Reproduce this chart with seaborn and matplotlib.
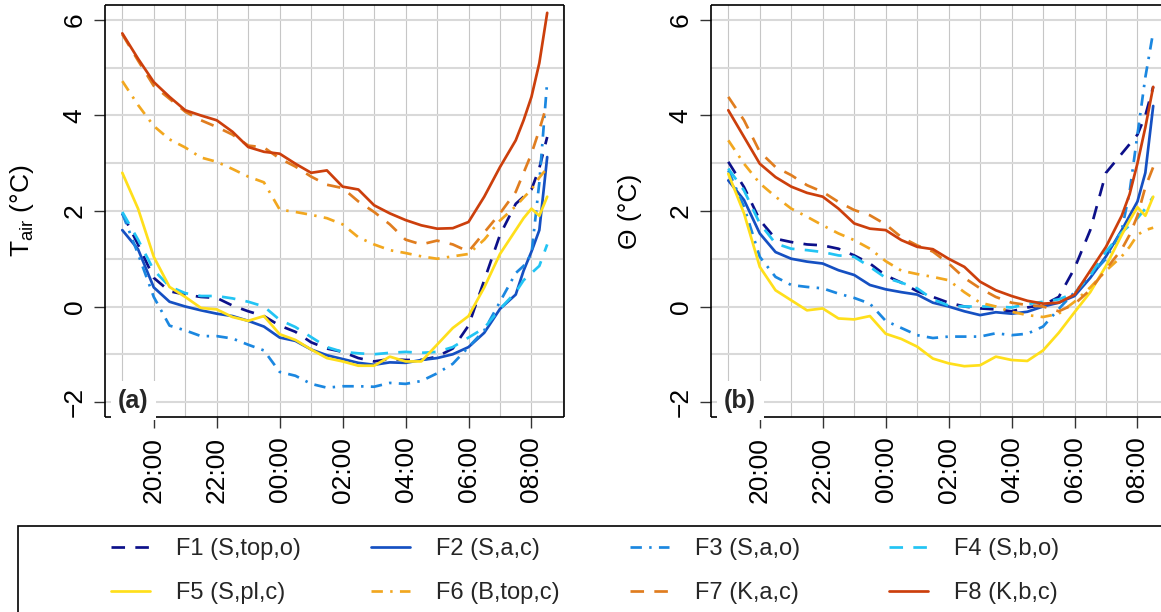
import numpy as np
import pandas as pd
import matplotlib
matplotlib.use("Agg")
import matplotlib.pyplot as plt
from matplotlib.patches import Rectangle
from matplotlib.ticker import NullLocator
import seaborn as sns

# ---------------- data (hours after midnight of the first day) ----------------
hours = [19.0, 19.5, 20.0, 20.5, 21.0, 21.5, 22.0, 22.5, 23.0, 23.5,
         24.0, 24.5, 25.0, 25.5, 26.0, 26.5, 27.0, 27.5, 28.0, 28.5,
         29.0, 29.5, 30.0, 30.5, 31.0, 31.5, 31.75, 32.0, 32.25, 32.5]

series_names = ["F1 (S,top,o)", "F2 (S,a,c)", "F3 (S,a,o)", "F4 (S,b,o)",
                "F5 (S,pl,c)", "F6 (B,top,c)", "F7 (K,a,c)", "F8 (K,b,c)"]

# panel (a): air temperature
tair_F1 = [1.95, 1.3, 0.6, 0.32, 0.25, 0.2, 0.18, 0.02, -0.1, -0.2, -0.4, -0.53, -0.75, -0.88, -0.95,
           -1.08, -1.15, -1.1, -1.12, -1.12, -1.05, -0.88, -0.4, 0.55, 1.5, 2.15, 2.3, 2.45, 2.9, 3.55]
tair_F2 = [1.6, 1.2, 0.4, 0.1, 0.0, -0.08, -0.15, -0.2, -0.3, -0.42, -0.65, -0.72, -0.9, -1.02, -1.1,
           -1.18, -1.22, -1.17, -1.18, -1.12, -1.08, -1.0, -0.85, -0.55, -0.05, 0.25, 0.75, 1.15, 1.6, 3.13]
tair_F3 = [1.95, 1.1, 0.2, -0.4, -0.5, -0.62, -0.62, -0.67, -0.8, -0.92, -1.37, -1.45, -1.62, -1.7, -1.67,
           -1.67, -1.68, -1.6, -1.62, -1.56, -1.4, -1.2, -0.85, -0.5, 0.1, 0.7, 0.85, 1.1, 2.6, 4.72]
tair_F4 = [1.98, 1.4, 0.76, 0.42, 0.28, 0.22, 0.22, 0.17, 0.1, 0.0, -0.28, -0.43, -0.64, -0.85, -0.95,
           -0.98, -1.0, -0.97, -0.95, -0.97, -0.95, -0.85, -0.65, -0.45, -0.05, 0.3, 0.55, 0.7, 0.85, 1.3]
tair_F5 = [2.8, 2.05, 1.04, 0.41, 0.2, -0.03, -0.06, -0.22, -0.3, -0.2, -0.58, -0.7, -0.9, -1.08, -1.15,
           -1.24, -1.24, -1.05, -1.15, -1.15, -0.8, -0.45, -0.2, 0.4, 1.1, 1.6, 1.85, 2.05, 1.9, 2.3]
tair_F6 = [4.72, 4.22, 3.78, 3.5, 3.33, 3.12, 3.03, 2.88, 2.72, 2.6, 2.03, 1.98, 1.92, 1.85, 1.72,
           1.45, 1.3, 1.18, 1.12, 1.05, 1.0, 1.05, 1.1, 1.4, 1.8, 2.1, 2.28, 2.45, 2.7, 2.9]
tair_F7 = [5.7, 5.15, 4.62, 4.35, 4.08, 3.9, 3.76, 3.6, 3.37, 3.33, 3.1, 2.93, 2.72, 2.55, 2.48,
           2.2, 1.98, 1.72, 1.4, 1.3, 1.38, 1.3, 1.15, 1.55, 1.95, 2.4, 2.8, 3.2, 3.7, 4.25]
tair_F8 = [5.72, 5.19, 4.70, 4.39, 4.11, 4.0, 3.90, 3.66, 3.34, 3.24, 3.20, 2.99, 2.80, 2.85, 2.51,
           2.45, 2.12, 1.95, 1.81, 1.70, 1.63, 1.64, 1.77, 2.30, 2.92, 3.48, 3.9, 4.39, 5.1, 6.15]

# panel (b): Theta
theta_F1 = [3.03, 2.5, 1.81, 1.42, 1.35, 1.3, 1.28, 1.21, 1.07, 0.9, 0.65, 0.5, 0.32, 0.2, 0.08,
            0.0, -0.04, -0.06, -0.1, -0.02, 0.03, 0.2, 0.8, 1.6, 2.8, 3.2, 3.4, 3.6, 4.0, 4.6]
theta_F2 = [2.64, 2.23, 1.53, 1.14, 1.0, 0.94, 0.9, 0.76, 0.66, 0.45, 0.36, 0.3, 0.25, 0.08, 0.0,
            -0.1, -0.18, -0.12, -0.15, -0.11, 0.0, 0.08, 0.22, 0.6, 1.05, 1.6, 1.9, 2.2, 2.8, 4.2]
theta_F3 = [2.85, 2.09, 1.04, 0.62, 0.45, 0.41, 0.38, 0.27, 0.18, 0.06, -0.3, -0.45, -0.6, -0.66, -0.63,
            -0.63, -0.63, -0.56, -0.6, -0.57, -0.42, -0.05, 0.3, 0.65, 1.0, 1.6, 2.4, 3.6, 4.8, 5.75]
theta_F4 = [2.89, 2.43, 1.74, 1.32, 1.21, 1.18, 1.14, 1.07, 1.04, 0.83, 0.6, 0.5, 0.38, 0.15, 0.02,
            0.0, 0.0, 0.0, -0.02, 0.05, 0.1, 0.15, 0.28, 0.65, 1.15, 1.55, 1.7, 1.85, 2.05, 2.3]
theta_F5 = [2.78, 1.95, 0.83, 0.34, 0.13, -0.08, -0.04, -0.25, -0.27, -0.2, -0.57, -0.68, -0.84, -1.09, -1.19,
            -1.25, -1.23, -1.05, -1.12, -1.14, -0.92, -0.55, -0.12, 0.3, 0.85, 1.5, 1.8, 2.08, 1.9, 2.3]
theta_F6 = [3.48, 2.99, 2.58, 2.3, 2.05, 1.88, 1.7, 1.53, 1.39, 1.21, 0.95, 0.75, 0.68, 0.62, 0.55,
            0.3, 0.08, 0.0, -0.11, -0.18, -0.22, -0.15, 0.1, 0.4, 0.75, 1.05, 1.25, 1.5, 1.6, 1.65]
theta_F7 = [4.39, 3.9, 3.24, 2.92, 2.75, 2.54, 2.4, 2.19, 2.02, 1.91, 1.72, 1.45, 1.28, 1.15, 0.9,
            0.6, 0.38, 0.2, 0.08, 0.03, 0.0, -0.1, 0.05, 0.35, 0.78, 1.2, 1.5, 1.9, 2.5, 2.92]
theta_F8 = [4.11, 3.55, 2.99, 2.71, 2.51, 2.38, 2.3, 2.05, 1.74, 1.63, 1.6, 1.39, 1.25, 1.2, 1.0,
            0.83, 0.52, 0.34, 0.22, 0.12, 0.06, 0.08, 0.25, 0.75, 1.25, 1.9, 2.35, 3.0, 3.75, 4.6]

tick_hours = [20, 22, 24, 26, 28, 30, 32]
tick_labels = ["20:00", "22:00", "00:00", "02:00", "04:00", "06:00", "08:00"]
ytick_values = [-2, 0, 2, 4, 6]
grid_hours = list(range(19, 34))
grid_values = list(range(-2, 7))

# ---------------- styles ----------------
colors = ["#0c108a", "#1550c2", "#1b87e0", "#22c4f4",
          "#ffdf1b", "#f2a71f", "#e07d1f", "#cc3f0c"]
dash = (0, (5.0, 3.8))
dotdash = (0, (4.2, 2.7, 0.9, 2.7))
linestyles = [dash, "-", dotdash, dash, "-", dotdash, dash, "-"]

sns.set_theme(style="ticks")
plt.rcParams["font.family"] = ["Liberation Sans", "DejaVu Sans"]
plt.rcParams["axes.unicode_minus"] = True

fig = plt.figure(figsize=(11.61, 6.12), dpi=100)
W, H = 1161.0, 612.0
ax_w, ax_h = 458.9, 412.6
ax1 = fig.add_axes([105.3 / W, 1 - 417.3 / H, ax_w / W, ax_h / H])
ax2 = fig.add_axes([711.3 / W, 1 - 417.3 / H, ax_w / W, ax_h / H])

panels = [
    (ax1, [tair_F1, tair_F2, tair_F3, tair_F4, tair_F5, tair_F6, tair_F7, tair_F8],
     r"$\mathregular{T_{air}}$ (°C)", "(a)"),
    (ax2, [theta_F1, theta_F2, theta_F3, theta_F4, theta_F5, theta_F6, theta_F7, theta_F8],
     "Θ (°C)", "(b)"),
]

handles = []
for pi, (ax, values, ylab, tag) in enumerate(panels):
    ax.set_facecolor("white")
    # background grid (R style grid at every hour / every degree)
    for gh in grid_hours:
        ax.axvline(gh, color="#c6c6c6", linewidth=0.8, zorder=0)
    for gv in grid_values:
        ax.axhline(gv, color="#d9d9d9", linewidth=1.5, zorder=0)

    for i, name in enumerate(series_names):
        df = pd.DataFrame({"hour": hours, "value": values[i]})
        sns.lineplot(data=df, x="hour", y="value", ax=ax, color=colors[i],
                     linewidth=1.95, estimator=None, sort=False, legend=False)
        line = ax.lines[-1]
        line.set_linestyle(linestyles[i])
        line.set_dash_capstyle("butt")
        line.set_solid_capstyle("round")
        line.set_solid_joinstyle("round")
        line.set_label(name)
        line.set_zorder(3)
        if pi == 0:
            handles.append(line)

    ax.set_xlim(18.46, 33.04)
    ax.set_ylim(-2.32, 6.32)
    ax.grid(False)

    ax.set_xticks(tick_hours, tick_labels, rotation=90, ha="center", va="top")
    ax.set_yticks(ytick_values, [str(v).replace("-", "\u2212") for v in ytick_values],
                  rotation=90, ha="right", va="center")
    ax.xaxis.set_minor_locator(NullLocator())
    ax.yaxis.set_minor_locator(NullLocator())

    ax.tick_params(axis="both", which="major", length=8, width=1.0, color="#333333",
                   labelsize=19, labelcolor="black", direction="out")
    ax.tick_params(axis="x", which="major", pad=6)
    ax.tick_params(axis="y", which="major", pad=5.5)
    for s in ax.spines.values():
        s.set_visible(True)
        s.set_color("black")
        s.set_linewidth(1.2)
        s.set_capstyle("butt")

    ax.set_xlabel("")
    ax.set_ylabel(ylab, fontsize=19, color="black")
    ax.yaxis.set_label_coords(-0.15, 0.5)

    ax.text(0.028, 0.04, tag, transform=ax.transAxes, fontsize=18, fontweight="bold",
            ha="left", va="center", zorder=4,
            bbox=dict(boxstyle="square,pad=0.3", facecolor="white", edgecolor="none"))

# ---------------- legend ----------------
frame = Rectangle((18.3 / W, -0.2), 1.2, 0.2 + (1 - 525.7 / H), transform=fig.transFigure,
                  fill=False, edgecolor="black", linewidth=1.2, clip_on=False)
fig.add_artist(frame)

col_x = [111.0, 371.0, 630.0, 889.0]
for c in range(4):
    hs = [handles[c], handles[c + 4]]
    fig.legend(hs, [h.get_label() for h in hs], loc="upper left",
               bbox_to_anchor=(col_x[c] / W, 1 - 538.0 / H), bbox_transform=fig.transFigure,
               frameon=False, fontsize=17, ncol=1, borderpad=0, borderaxespad=0,
               handlelength=1.65, handletextpad=1.1, labelspacing=0.95)

fig.savefig("out.png", dpi=100)
